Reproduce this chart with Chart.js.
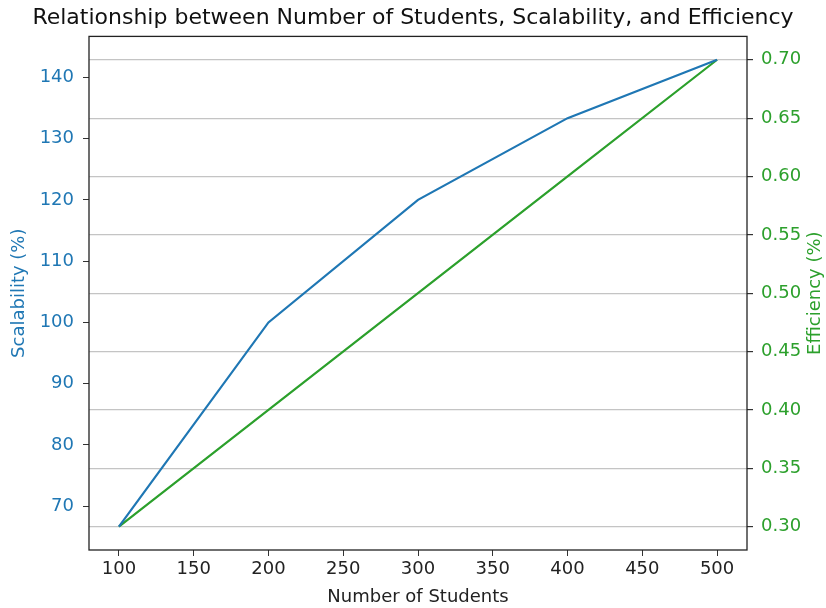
<!DOCTYPE html>
<html>
<head>
<meta charset="utf-8">
<script src="https://cdn.jsdelivr.net/npm/chart.js@4"></script>
<style>
  html, body { margin:0; padding:0; background:#fff; }
  #wrap { width:826px; height:608px; }
</style>
</head>
<body>
<div id="wrap"><canvas id="grafico"></canvas></div>
<script>
// datos
const estudiantes = [100, 200, 300, 400, 500];
const escalabilidad = [66.67, 100, 120, 133.33, 142.86];
const eficiencia = [0.30, 0.40, 0.50, 0.60, 0.70];
const ticksX = [100, 150, 200, 250, 300, 350, 400, 450, 500];
const ticksIzq = [70, 80, 90, 100, 110, 120, 130, 140];
const ticksDer = [0.30, 0.35, 0.40, 0.45, 0.50, 0.55, 0.60, 0.65, 0.70];

const AZUL = '#1f77b4', VERDE = '#2ca02c';
const fuente = "'DejaVu Sans', sans-serif";

// marco completo + titulo del eje derecho leyendo hacia arriba (como matplotlib)
const marco = {
  id:'marco',
  afterDraw(chart) {
    const a = chart.chartArea, ctx = chart.ctx, s = chart.scales.y1;
    ctx.save();
    ctx.strokeStyle = '#222'; ctx.lineWidth = 1.3;
    ctx.strokeRect(a.left, a.top, a.right - a.left, a.bottom - a.top);
    ctx.translate(s.right - 11, (a.top + a.bottom) / 2);
    ctx.rotate(-Math.PI / 2);
    ctx.fillStyle = VERDE;
    ctx.font = `18px ${fuente}`;
    ctx.textAlign = 'center'; ctx.textBaseline = 'middle';
    ctx.fillText('Efficiency (%)', 0, 0);
    ctx.restore();
  }
};

new Chart(document.getElementById('grafico'), {
  type:'line',
  data:{ datasets:[
    { label:'Scalability', data:estudiantes.map((x,i)=>({x, y:escalabilidad[i]})), borderColor:AZUL, borderWidth:2.2, pointRadius:0, tension:0, yAxisID:'y' },
    { label:'Efficiency', data:estudiantes.map((x,i)=>({x, y:eficiencia[i]})), borderColor:VERDE, borderWidth:2.2, pointRadius:0, tension:0, yAxisID:'y1' }
  ]},
  plugins:[marco],
  options:{
    responsive:true, maintainAspectRatio:false, animation:false,
    layout:{ padding:0 },
    plugins:{
      legend:{ display:false },
      tooltip:{ enabled:false },
      title:{ display:true, text:'Relationship between Number of Students, Scalability, and Efficiency', color:'#111', font:{ family:fuente, size:22, weight:'normal' }, padding:{ top:5, bottom:5 } }
    },
    scales:{
      x:{
        type:'linear', min:80, max:520,
        afterBuildTicks:s=>{ s.ticks = ticksX.map(v=>({value:v})); },
        afterFit:s=>{ s.height = 58; },
        grid:{ display:true, drawOnChartArea:false, tickLength:6, tickColor:'#333' },
        border:{ display:false },
        ticks:{ color:'#222', font:{ family:fuente, size:18 }, padding:3, maxRotation:0 },
        title:{ display:true, text:'Number of Students', color:'#222', font:{ family:fuente, size:18 }, padding:{ top:0, bottom:0 } }
      },
      y:{
        position:'left', min:62.86, max:146.67,
        afterBuildTicks:s=>{ s.ticks = ticksIzq.map(v=>({value:v})); },
        afterFit:s=>{ s.width = 89; },
        grid:{ display:true, drawOnChartArea:false, tickLength:6, tickColor:'#333' },
        border:{ display:false },
        ticks:{ color:AZUL, font:{ family:fuente, size:18 }, padding:9 },
        title:{ display:true, text:'Scalability (%)', color:AZUL, font:{ family:fuente, size:18 }, padding:{ top:9, bottom:9 } }
      },
      y1:{
        position:'right', min:0.28, max:0.72,
        afterBuildTicks:s=>{ s.ticks = ticksDer.map(v=>({value:v})); },
        afterFit:s=>{ s.width = 79; },
        grid:{ display:true, drawOnChartArea:true, color:'#c4c4c4', lineWidth:1.2, tickLength:6, tickColor:'#333' },
        border:{ display:false },
        ticks:{ color:VERDE, font:{ family:fuente, size:18 }, padding:8, callback:v=>v.toFixed(2) },
        title:{ display:false }
      }
    }
  }
});
</script>
</body>
</html>
